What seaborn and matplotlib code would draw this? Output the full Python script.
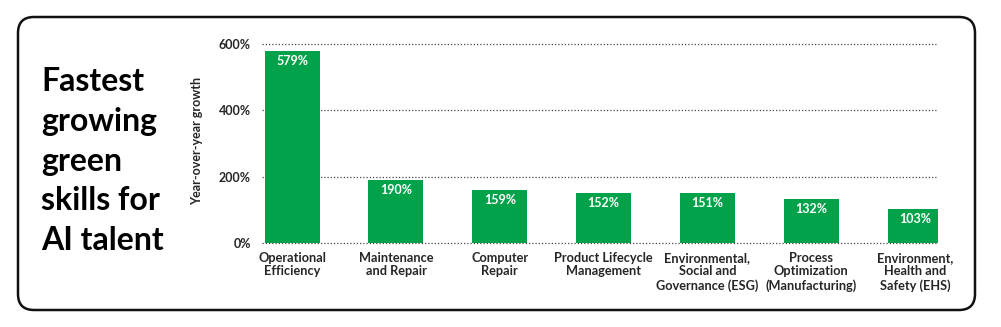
import matplotlib
matplotlib.use("Agg")
import matplotlib.pyplot as plt
import seaborn as sns
import pandas as pd
from matplotlib.patches import FancyBboxPatch

categories = [
    "Operational\nEfficiency",
    "Maintenance\nand Repair",
    "Computer\nRepair",
    "Product Lifecycle\nManagement",
    "Environmental,\nSocial and\nGovernance (ESG)",
    "Process\nOptimization\n(Manufacturing)",
    "Environment,\nHealth and\nSafety (EHS)",
]
growth = [579, 190, 159, 152, 151, 132, 103]
value_labels = ["579%", "190%", "159%", "152%", "151%", "132%", "103%"]
yticks = [0, 200, 400, 600]
ytick_labels = ["0%", "200%", "400%", "600%"]
title = "Fastest\ngrowing\ngreen\nskills for\nAI talent"
ylabel = "Year-over-year growth"

sns.set_theme(style="white")
plt.rcParams["font.family"] = ["Lato", "DejaVu Sans"]

GREEN = "#02a24a"

fig = plt.figure(figsize=(10.01, 3.27), dpi=100)
fig.patch.set_facecolor("white")

# rounded border
W, H = 1001, 327
box = FancyBboxPatch((18 / W, 17 / H), (975 - 18) / W, (310 - 17) / H,
                     boxstyle="round,pad=0,rounding_size=0.016",
                     transform=fig.transFigure, facecolor="none",
                     edgecolor="#111111", linewidth=1.8,
                     mutation_aspect=W / H, zorder=0)
fig.patches.append(box)

fig.text(41 / W, 1 - 161 / H, title, ha="left", va="center",
         fontsize=23, fontweight="bold", color="black", linespacing=1.45)

ax = fig.add_axes([262 / W, 1 - 245 / H, (938 - 262) / W, (245 - 37) / H])
ax.patch.set_alpha(0)
df = pd.DataFrame({"skill": categories, "growth": growth})
sns.barplot(data=df, x="skill", y="growth", color=GREEN, saturation=1,
            width=0.53, ax=ax, zorder=3)
for p in ax.patches:
    p.set_edgecolor("none")

ax.set_xlim(-0.29, 6.22)
ax.set_ylim(-5, 620)
ax.set_yticks(yticks)
ax.set_yticklabels(ytick_labels)
for y in yticks:
    ax.axhline(y, color="#444444", linestyle=(0, (1, 1.6)), linewidth=0.9,
               zorder=1)
for s in ax.spines.values():
    s.set_visible(False)

ax.tick_params(axis="y", length=0, pad=8, labelsize=9)
ax.tick_params(axis="x", length=0, pad=5, labelsize=9.2)
for lab in ax.get_yticklabels():
    lab.set_fontweight("bold")
for lab in ax.get_xticklabels():
    lab.set_fontweight("bold")
    lab.set_linespacing(1.15)
ax.set_xlabel("")
ax.set_ylabel(ylabel, fontsize=9, fontweight="bold", labelpad=11)

for i, (v, t) in enumerate(zip(growth, value_labels)):
    ax.text(i, v - 12, t, ha="center", va="top", color="white",
            fontsize=9, fontweight="bold", zorder=4)

fig.savefig("out.png", dpi=100, facecolor="white")
